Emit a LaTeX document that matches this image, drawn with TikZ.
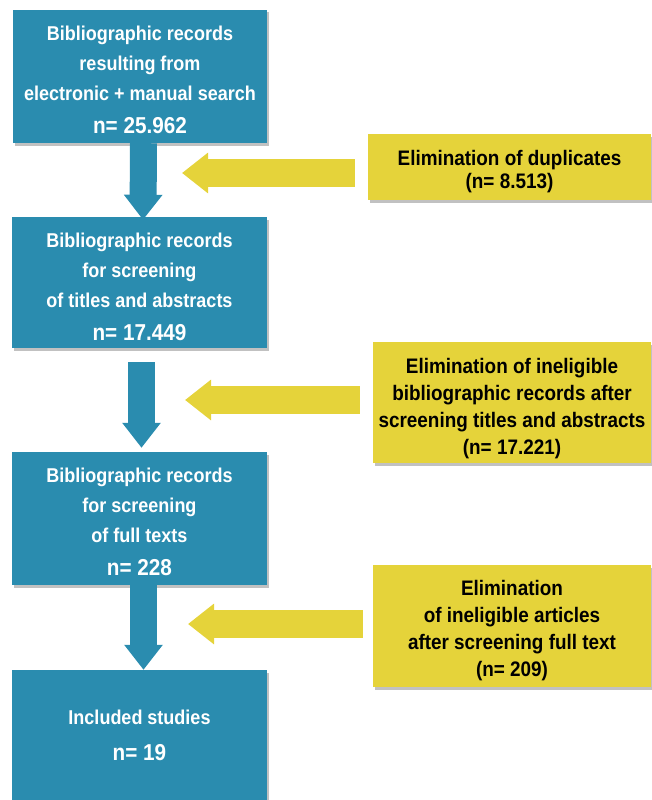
\documentclass[tikz,border=0pt]{standalone}
\usepackage{fontspec}
\setmainfont{Liberation Sans}[FakeStretch=0.9]
\usetikzlibrary{arrows.meta,shadows,calc}
\definecolor{bluefill}{RGB}{42,140,175}
\definecolor{yelfill}{RGB}{229,211,58}
\tikzset{
  shadowed/.style={drop shadow={shadow xshift=2pt,shadow yshift=-2.5pt,opacity=0.35,fill=black!70}},
  blueshape/.style={shadowed, fill=bluefill, minimum width=255pt, inner sep=0pt},
  bluetext/.style={text=white, inner sep=0pt, align=center, font=\bfseries\fontsize{20}{30}\selectfont},
  yelshape/.style={shadowed, fill=yelfill, inner sep=0pt},
  yeltext/.style={text=black, inner sep=0pt, align=center, font=\bfseries\fontsize{21}{27}\selectfont},
  bluearrow/.style={draw=bluefill, line width=27pt, -{Triangle[width=37pt,length=25pt]}},
  yelarrow/.style={draw=yelfill, line width=28pt, -{Triangle[width=39pt,length=26pt]}},
}
\newcommand{\numline}[1]{{\fontsize{23}{30}\selectfont #1}}
\begin{document}
\begin{tikzpicture}[x=1pt,y=-1pt]
\useasboundingbox (0,0) rectangle (651,800);
% blue boxes
\node[blueshape, minimum width=254pt, minimum height=133pt,
  label={[bluetext, yshift=-3pt]center:{Bibliographic records\\resulting from\\electronic + manual search\\[3pt]\numline{n= 25.962}}}]
  (b1) at (140,76.5) {};
\node[blueshape, minimum height=131pt,
  label={[bluetext, yshift=-4pt]center:{Bibliographic records\\for screening\\of titles and abstracts\\[3pt]\numline{n= 17.449}}}]
  (b2) at (139.5,282.5) {};
\node[blueshape, minimum height=133pt,
  label={[bluetext, yshift=-3.5pt]center:{Bibliographic records\\for screening\\of full texts\\[3pt]\numline{n= 228}}}]
  (b3) at (139.5,518.5) {};
\node[blueshape, minimum height=130pt,
  label={[bluetext, font=\bfseries\fontsize{20}{36}\selectfont]center:{Included studies\\\numline{n= 19}}}]
  (b4) at (139.5,735) {};
% yellow boxes
\node[yelshape, minimum width=283pt, minimum height=66pt,
  label={[yeltext, font=\bfseries\fontsize{21}{23}\selectfont, yshift=-5pt]center:{Elimination of duplicates\\(n= 8.513)}}]
  (y1) at (509.5,167) {};
\node[yelshape, minimum width=278pt, minimum height=121pt,
  label={[yeltext, yshift=-6.5pt]center:{Elimination of ineligible\\bibliographic records after\\screening titles and abstracts\\(n= 17.221)}}]
  (y2) at (512,402.5) {};
\node[yelshape, minimum width=278pt, minimum height=122pt,
  label={[yeltext, yshift=-5pt]center:{Elimination\\of ineligible articles\\after screening full text\\(n= 209)}}]
  (y3) at (512,626) {};
% blue arrows
\draw[bluearrow] ([xshift=3.5pt]b1.south) -- ([xshift=3.5pt,yshift=-3pt]b2.north);
\draw[bluearrow] ([xshift=2pt,yshift=-14pt]b2.south) -- ([xshift=2pt,yshift=4pt]b3.north);
\draw[bluearrow] ([xshift=4pt]b3.south) -- ([xshift=4pt]b4.north);
% yellow arrows
\coordinate (t1) at (182,173);
\coordinate (t2) at (185,400);
\coordinate (t3) at (188,624);
\draw[yelarrow] ([xshift=-13pt,yshift=-6pt]y1.west) -- (t1);
\draw[yelarrow] ([xshift=-13pt,yshift=2.5pt]y2.west) -- (t2);
\draw[yelarrow] ([xshift=-10pt,yshift=2pt]y3.west) -- (t3);
\end{tikzpicture}
\end{document}
